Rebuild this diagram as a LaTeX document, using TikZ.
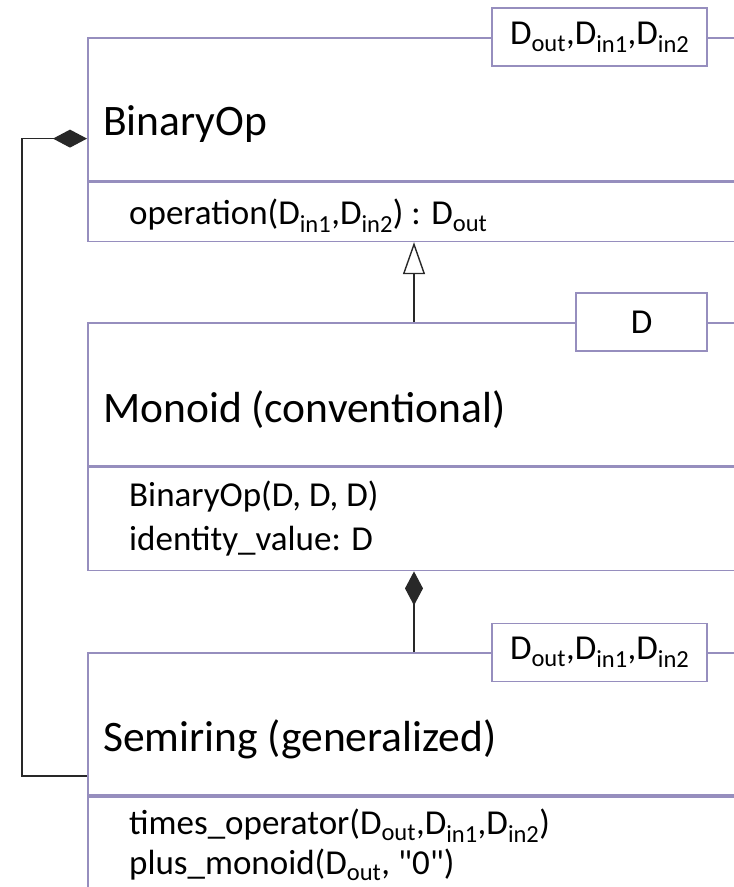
\documentclass[tikz,border=0pt]{standalone}
\usepackage{fontspec}
\setmainfont{Carlito}[Ligatures=TeXOff]
\usepackage{tikz}
\usetikzlibrary{arrows.meta, positioning}
\definecolor{umlline}{RGB}{150, 142, 190}
\definecolor{linkcolor}{RGB}{40, 40, 40}
\newcommand{\dsub}[1]{\textsubscript{#1}}

\begin{document}
\begin{tikzpicture}[
    x=1pt, y=-1pt,
    compart/.style={draw=umlline, line width=1.6pt, minimum width=720pt, inner sep=0pt, anchor=north west},
    tmpl/.style={draw=umlline, line width=1.6pt, fill=white, minimum height=58pt, inner sep=0pt, anchor=east, font=\fontsize{35}{42}\selectfont},
    title/.style={anchor=base west, inner sep=0pt, font=\fontsize{43.5}{50}\selectfont},
    member/.style={anchor=base west, inner sep=0pt, font=\fontsize{35}{44}\selectfont},
    inherit/.style={draw=linkcolor, line width=1.4pt, -{Triangle[open, length=32pt, width=22pt]}},
    compose/.style={draw=linkcolor, line width=1.4pt, -{Diamond[length=34pt, width=18pt]}}
]
    \useasboundingbox (0,0) rectangle (734,887);
    \clip (0,0) rectangle (734,887);

    % Class compartments
    \node[compart, minimum height=143pt] (optitle) at (87,37) {};
    \node[compart, minimum height=59pt] (opmem) at (optitle.south west) {};
    \node[compart, minimum height=143pt, below=80pt of opmem.south west, anchor=north west] (montitle) {};
    \node[compart, minimum height=103pt] (monmem) at (montitle.south west) {};
    \node[compart, minimum height=142pt, below=81pt of monmem.south west, anchor=north west] (semtitle) {};
    \node[compart, minimum height=120pt] (semmem) at (semtitle.south west) {};

    % Template parameters
    \node[tmpl, minimum width=215pt] (optmpl) at ([xshift=621pt]optitle.north west) {D\dsub{out},D\dsub{in1},D\dsub{in2}};
    \node[tmpl, minimum width=131pt] (montmpl) at ([xshift=621pt]montitle.north west) {D};
    \node[tmpl, minimum width=215pt] (semtmpl) at ([xshift=621pt]semtitle.north west) {D\dsub{out},D\dsub{in1},D\dsub{in2}};

    % Names and members
    \node[title] (optext) at ([xshift=16pt, yshift=-98pt]optitle.north west) {BinaryOp};
    \node[member] (opops) at ([xshift=42pt, yshift=-43pt]opmem.north west) {operation(D\dsub{in1},D\dsub{in2}) : D\dsub{out}};
    \node[title] (montext) at ([xshift=16pt, yshift=-100pt]montitle.north west) {Monoid (conventional)};
    \node[member] (monbin) at ([xshift=42pt, yshift=-40pt]monmem.north west) {BinaryOp(D, D, D)};
    \node[member] (monid) at ([yshift=-44pt]monbin.base west) {identity\_value: D};
    \node[title] (semtext) at ([xshift=16pt, yshift=-99pt]semtitle.north west) {Semiring (generalized)};
    \node[member] (semtimes) at ([xshift=42pt, yshift=-38pt]semmem.north west) {times\_operator(D\dsub{out},D\dsub{in1},D\dsub{in2})};
    \node[member] (semplus) at ([yshift=-40pt]semtimes.base west) {plus\_monoid(D\dsub{out}, "0")};

    % Relationships
    \draw[inherit] ([xshift=327pt]montitle.north west) -- ([xshift=327pt]opmem.south west);
    \draw[compose] ([xshift=327pt]semtitle.north west) -- ([xshift=327pt]monmem.south west);
    \draw[compose] ([yshift=20pt]semtitle.south west) -- ++(-65,0) |- ([yshift=43pt]optitle.south west);
\end{tikzpicture}
\end{document}
